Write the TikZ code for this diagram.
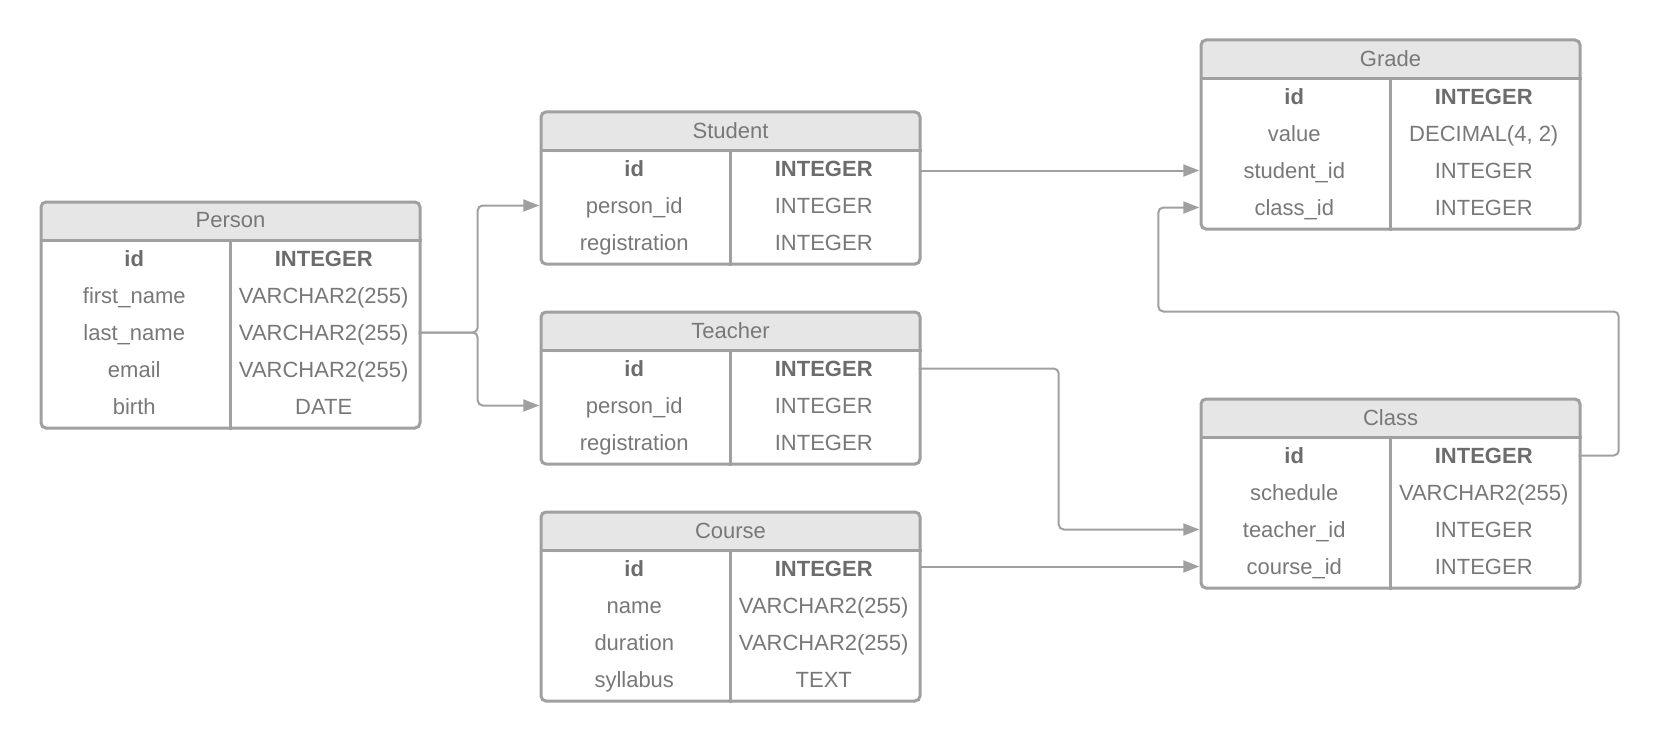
\documentclass[tikz,border=0pt]{standalone}
\usepackage{fontspec}
\setmainfont{Liberation Sans}
\usepackage{xcolor}
\usepackage{tikz}
\usetikzlibrary{arrows.meta, calc}
\definecolor{erline}{RGB}{160,160,160}
\definecolor{erhead}{RGB}{230,230,230}
\definecolor{ertext}{RGB}{120,120,120}
\definecolor{erkey}{RGB}{108,108,108}

\begin{document}
\begin{tikzpicture}[
    x = 1pt, y = -1pt,
    font      = \fontsize{22}{26}\selectfont,
    tbl/.style   = {rectangle, rounded corners=5pt, draw=erline, line width=3pt,
                    fill=white, anchor=north west, minimum width=379pt, inner sep=0pt,
                    path picture={\fill[erhead] (path picture bounding box.north west)
                      rectangle ([yshift=-40pt]path picture bounding box.north east);}},
    title/.style = {text=ertext, inner sep=0pt},
    cell/.style  = {minimum width=189.5pt, minimum height=37pt, inner sep=0pt,
                    text=ertext, text height=15.75pt, text depth=0pt},
    rule/.style  = {draw=erline, line width=3pt},
    conn/.style  = {draw=erline, line width=2pt, rounded corners=5pt,
                    -{Triangle[length=16pt, width=12pt]}},
]
\useasboundingbox (0,0) rectangle (1662,741);

% tables: name / left / top / title / rows / fields
\foreach \tname/\tx/\ty/\ttitle/\tn/\trows in {
    person/39.5/200.5/Person/5/{id/INTEGER, first\_name/VARCHAR2(255), last\_name/VARCHAR2(255), email/VARCHAR2(255), birth/DATE},
    student/539.5/110.5/Student/3/{id/INTEGER, person\_id/INTEGER, registration/INTEGER},
    teacher/539.5/310.5/Teacher/3/{id/INTEGER, person\_id/INTEGER, registration/INTEGER},
    course/539.5/510.5/Course/4/{id/INTEGER, name/VARCHAR2(255), duration/VARCHAR2(255), syllabus/TEXT},
    grade/1199.5/38.5/Grade/4/{id/INTEGER, value/{DECIMAL(4, 2)}, student\_id/INTEGER, class\_id/INTEGER},
    class/1199.5/397.5/Class/4/{id/INTEGER, schedule/VARCHAR2(255), teacher\_id/INTEGER, course\_id/INTEGER}} {
  \node[tbl, minimum height={40pt+37pt*\tn+1pt}] (\tname) at (\tx,\ty) {};
  \node[title] (\tname-h) at ([yshift=-20pt]\tname.north) {\ttitle};
  \draw[rule] ([yshift=-40pt]\tname.north west) -- ([yshift=-40pt]\tname.north east);
  \draw[rule] ([yshift=-40pt]\tname.north) -- (\tname.south);
  \foreach \f/\t [count=\i] in \trows {
    \node[cell] (\tname-f\i) at ($(\tname.north west)+(94.75,{39.5+37*(\i-0.5)})$)
      {\ifnum\i=1 \bfseries\color{erkey}\fi\f};
    \node[cell] (\tname-t\i) at ($(\tname.north west)+(284.25,{39.5+37*(\i-0.5)})$)
      {\ifnum\i=1 \bfseries\color{erkey}\fi\t};
  }
}

% keys
\draw[conn] (person-t3.east) -- ++(59,0) |- (student-f2.west);
\draw[conn] (person-t3.east) -- ++(59,0) |- (teacher-f2.west);
\draw[conn] (grade-f3.west -| student-t1.east) -- (grade-f3.west);
\draw[conn] (teacher-t1.east) -- ++(140,0) |- (class-f3.west);
\draw[conn] (class-f4.west -| course-t1.east) -- (class-f4.west);
\draw[conn] (class-t1.east) -- ++(40,0) -- ++(0,-144)
            -| ($(grade-f4.west)+(-41,0)$) -- (grade-f4.west);
\end{tikzpicture}
\end{document}
